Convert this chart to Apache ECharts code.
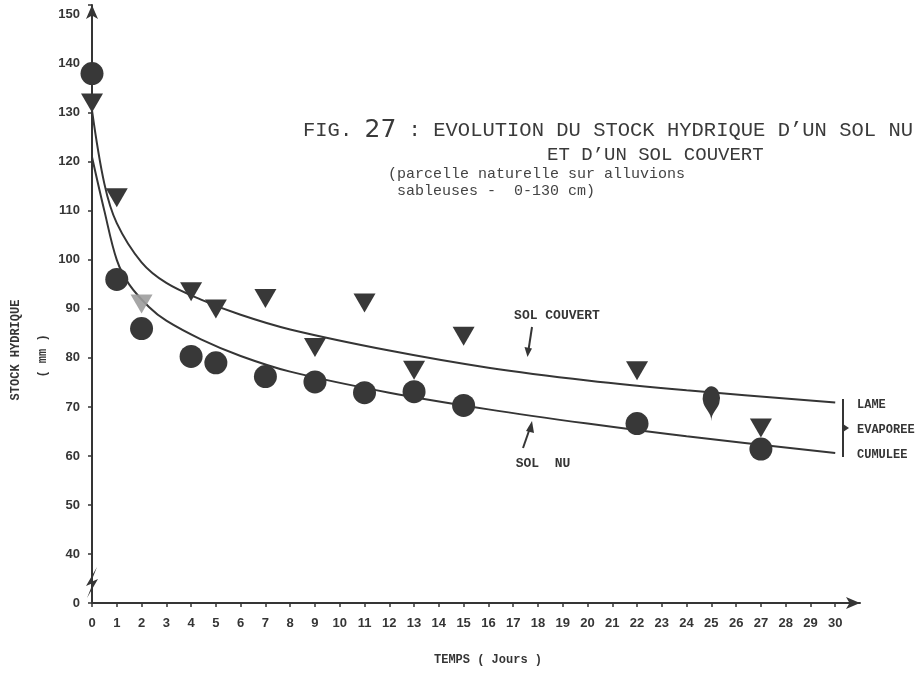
<!DOCTYPE html>
<html>
<head>
<meta charset="utf-8">
<script src="https://cdn.jsdelivr.net/npm/echarts@6/dist/echarts.min.js"></script>
<style>
  html, body { margin: 0; padding: 0; background: #fff; }
  #chart { width: 920px; height: 674px; }
</style>
</head>
<body>
<div id="chart"></div>
<script>
// Measured water stock (mm) per day, bare soil (SOL NU)
const daysNu = [0, 1, 2, 4, 5, 7, 9, 11, 13, 15, 22, 25, 27];
const stockNu = [138, 96, 86, 80.3, 79, 76.2, 75.1, 72.9, 73.1, 70.3, 66.6, 67.1, 61.4];

// Measured water stock (mm) per day, covered soil (SOL COUVERT)
const daysCouvert = [0, 1, 2, 4, 5, 7, 9, 11, 13, 15, 22, 27];
const stockCouvert = [132, 112.7, 91, 93.5, 90, 92.1, 82.1, 91.2, 77.5, 84.4, 77.4, 65.7];

// Hand-fitted trend curves
const curveCouvertDays = [0, 0.5, 1, 2, 3, 4.4, 6, 8, 12, 16, 20, 24, 30];
const curveCouvertStock = [130.5, 115.5, 107.5, 99.5, 95.3, 91.9, 88.8, 85.8, 81.5, 78, 75.4, 73.4, 70.9];
const curveNuDays = [0, 0.5, 1, 1.5, 2.3, 3, 4.4, 6, 8, 12, 16, 20, 24, 30];
const curveNuStock = [121, 110, 100, 95, 90.4, 87.6, 83.8, 80.4, 77.2, 72.9, 69.5, 66.6, 64.0, 60.6];

// Axis ticks
const dayTicks = [0, 1, 2, 3, 4, 5, 6, 7, 8, 9, 10, 11, 12, 13, 14, 15, 16, 17, 18, 19, 20, 21, 22, 23, 24, 25, 26, 27, 28, 29, 30];

const INK = '#353535';
const zip = (xs, ys) => xs.map((x, i) => [x, ys[i]]);

const nuData = zip(daysNu, stockNu).map((p) => {
  if (p[0] === 25) return { value: p, symbol: 'pin', symbolSize: [29, 40] };
  return { value: p };
});
const couvertData = zip(daysCouvert, stockCouvert).map((p) => {
  if (p[0] === 2) return { value: p, itemStyle: { color: '#9c9c9c', opacity: 0.9 } };
  return { value: p };
});

const chart = echarts.init(document.getElementById('chart'), null, { renderer: 'canvas' });

const centered = (text, x, y, size, extra) => Object.assign({
  type: 'text', x: x, y: y,
  style: {
    text: text, font: 'bold ' + size + 'px "Liberation Mono"', fill: INK,
    align: 'center', verticalAlign: 'middle', textAlign: 'center', textVerticalAlign: 'middle'
  }
}, extra || {});
const leftText = (text, x, y, size) => ({
  type: 'text', x: x, y: y,
  style: {
    text: text, font: 'bold ' + size + 'px "Liberation Mono"', fill: INK,
    align: 'left', verticalAlign: 'middle', textAlign: 'left', textVerticalAlign: 'middle'
  }
});

chart.setOption({
  animation: false,
  backgroundColor: '#ffffff',
  title: [
    {
      text: '{a|FIG. }{b|27}{a| : EVOLUTION DU STOCK HYDRIQUE D\u2019UN SOL NU}',
      left: 298, top: 113,
      textStyle: {
        fontWeight: 'normal',
        rich: {
          a: { fontFamily: 'Liberation Mono', fontSize: 20.5, fontWeight: 'normal', color: '#3a3a3a' },
          b: { fontFamily: 'DejaVu Sans', fontSize: 25, fontWeight: 'normal', color: '#3a3a3a' }
        }
      }
    },
    {
      text: 'ET D\u2019UN SOL COUVERT',
      left: 542, top: 140,
      textStyle: { fontFamily: 'Liberation Mono', fontSize: 19, fontWeight: 'normal', color: '#3a3a3a' }
    },
    {
      text: '(parcelle naturelle sur alluvions',
      left: 383, top: 162,
      textStyle: { fontFamily: 'Liberation Mono', fontSize: 15, fontWeight: 'normal', color: '#444' }
    },
    {
      text: ' sableuses -  0-130 cm)',
      left: 383, top: 179,
      textStyle: { fontFamily: 'Liberation Mono', fontSize: 15, fontWeight: 'normal', color: '#444' }
    }
  ],
  grid: { left: 92, right: 60, top: 5, bottom: 71, containLabel: false },
  xAxis: {
    type: 'value',
    min: 0, max: 31, interval: 1,
    splitLine: { show: false },
    axisLine: { show: true, symbol: ['none', 'arrow'], symbolSize: [9, 14], lineStyle: { color: INK, width: 2 } },
    axisTick: { show: true, length: 4, customValues: dayTicks, lineStyle: { color: INK, width: 1.5 } },
    axisLabel: {
      customValues: dayTicks, margin: 14,
      fontFamily: 'Liberation Sans', fontWeight: 'bold', fontSize: 13, color: INK
    }
  },
  yAxis: {
    type: 'value',
    min: 0, max: 152, interval: 10,
    breaks: [{ start: 0, end: 40, gap: 10 }],
    breakArea: { show: false },
    splitLine: { show: false },
    axisLine: { show: true, onZero: false, symbol: ['none', 'arrow'], symbolSize: [9, 14], lineStyle: { color: INK, width: 2 } },
    axisTick: { show: true, length: 4, lineStyle: { color: INK, width: 1.5 } },
    axisLabel: {
      margin: 12,
      fontFamily: 'Liberation Sans', fontWeight: 'bold', fontSize: 13, color: INK,
      formatter: (v) => (v % 10 === 0 && v <= 150 ? String(v) : '')
    }
  },
  series: [
    {
      name: 'SOL COUVERT (courbe)', type: 'line', data: zip(curveCouvertDays, curveCouvertStock),
      smooth: 0.35, showSymbol: false, silent: true, z: 1,
      lineStyle: { color: INK, width: 2 }
    },
    {
      name: 'SOL NU (courbe)', type: 'line', data: zip(curveNuDays, curveNuStock),
      smooth: 0.35, showSymbol: false, silent: true, z: 1,
      lineStyle: { color: INK, width: 2 }
    },
    {
      name: 'SOL NU', type: 'scatter', data: nuData, z: 3,
      symbol: 'circle', symbolSize: 23,
      itemStyle: { color: '#383838', opacity: 1 }
    },
    {
      name: 'SOL COUVERT', type: 'scatter', data: couvertData, z: 4,
      symbol: 'triangle', symbolRotate: 180, symbolSize: [22, 19],
      itemStyle: { color: '#383838', opacity: 1 }
    }
  ],
  graphic: [
    // vertical axis across the break, with the break mark
    { type: 'line', shape: { x1: 92, y1: 552, x2: 92, y2: 603 }, style: { stroke: INK, lineWidth: 2 }, z: 9 },
    { type: 'polygon', shape: { points: [[97, 567], [86, 586], [93, 583], [87, 598], [98, 579], [91, 582]] }, style: { fill: INK }, z: 10 },
    // vertical axis title
    centered('STOCK HYDRIQUE', 16, 350, 12, { rotation: Math.PI / 2 }),
    centered('( mm )', 43, 356, 12, { rotation: Math.PI / 2 }),
    // horizontal axis title
    centered('TEMPS ( Jours )', 488, 660, 12),
    // curve labels with pointers
    centered('SOL COUVERT', 557, 316, 13),
    { type: 'polyline', shape: { points: [[532, 327], [528.5, 350]] }, style: { stroke: INK, lineWidth: 2 } },
    { type: 'polygon', shape: { points: [[524.5, 347], [532, 348.5], [527.5, 357]] }, style: { fill: INK } },
    centered('SOL  NU', 543, 464, 13),
    { type: 'polyline', shape: { points: [[523, 448], [530, 428]] }, style: { stroke: INK, lineWidth: 2 } },
    { type: 'polygon', shape: { points: [[526, 431], [534, 433], [532, 421]] }, style: { fill: INK } },
    // bracket for the cumulative evaporated depth
    { type: 'polyline', shape: { points: [[843, 399], [843, 457]] }, style: { stroke: INK, lineWidth: 2 } },
    { type: 'polygon', shape: { points: [[843, 424], [843, 432], [849, 428]] }, style: { fill: INK } },
    leftText('LAME', 857, 405, 12),
    leftText('EVAPOREE', 857, 430, 12),
    leftText('CUMULEE', 857, 455, 12)
  ]
});
</script>
</body>
</html>
